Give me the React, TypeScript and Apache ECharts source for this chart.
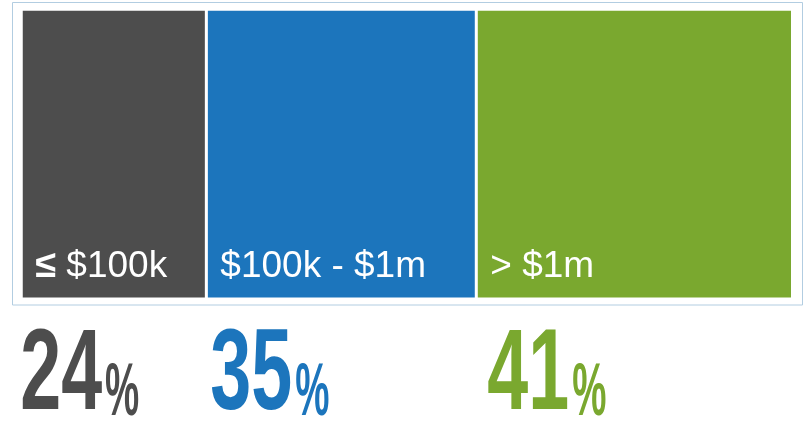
import React, { useEffect, useRef } from 'react';
import * as echarts from 'echarts';

const categories = ['≤ $100k', '$100k - $1m', '> $1m'];
const shares = [24, 35, 41];
const colors = ['#4d4d4d', '#1c75bc', '#7aa82f'];
const PCT_DX = [0, 5, 12];
const NUM_FONT = 'bold 115px "Liberation Sans"';

function measure(text: string, font: string): number {
  const c = document.createElement('canvas').getContext('2d');
  if (!c) return text.length * 64;
  c.font = font;
  return c.measureText(text).width;
}

export default function App() {
  const ref = useRef<HTMLDivElement>(null);
  useEffect(() => {
    const chart = echarts.init(ref.current!, null, { renderer: 'svg' });
    const frame = {
      type: 'rect',
      z: -10,
      silent: true,
      shape: { x: 12.5, y: 2.5, width: 790, height: 302.5 },
      style: { fill: '#ffffff', stroke: '#b2cde1', lineWidth: 1 },
    };
    const series = categories.map((name, i) => ({
      name,
      type: 'bar',
      stack: 'total',
      data: [shares[i]],
      barWidth: '100%',
      silent: true,
      emphasis: { disabled: true },
      itemStyle: { color: colors[i], borderColor: '#ffffff', borderWidth: 1.5 },
      label: {
        show: true,
        position: 'insideBottomLeft',
        distance: 0,
        offset: [14, -16],
        formatter: name.replace('≤', '{s|≤}'),
        color: '#ffffff',
        fontSize: 37,
        fontFamily: 'Liberation Sans',
        rich: {
          s: { fontSize: 38, fontWeight: 'bold', color: '#ffffff', fontFamily: 'Liberation Sans' },
        },
      },
    }));
    chart.setOption({
      animation: false,
      grid: { left: 21.25, right: 13.5, top: 9.25, bottom: 122 },
      xAxis: { type: 'value', min: 0, max: 100, show: false },
      yAxis: { type: 'category', data: ['share'], show: false },
      series,
      graphic: [frame],
    });
    let acc = 0;
    const texts: any[] = [];
    shares.forEach((v, i) => {
      const x0 = chart.convertToPixel({ xAxisIndex: 0 }, acc) as number;
      acc += v;
      const x = x0 + PCT_DX[i] - 1;
      const numW = measure(String(v), NUM_FONT) * 0.64;
      texts.push({
        type: 'text',
        x,
        y: 427,
        scaleX: 0.64,
        silent: true,
        style: {
          text: `{n|${v}}`,
          verticalAlign: 'bottom',
          align: 'left',
          fill: colors[i],
          rich: {
            n: { fontSize: 115, lineHeight: 100, fontWeight: 'bold', fontFamily: 'Liberation Sans', fill: colors[i], verticalAlign: 'bottom' },
          },
        },
      });
      texts.push({
        type: 'text',
        x: x + numW + 3,
        y: 426.5,
        scaleX: 0.52,
        silent: true,
        style: {
          text: '{p|%}',
          verticalAlign: 'bottom',
          align: 'left',
          fill: colors[i],
          rich: {
            p: { fontSize: 74, lineHeight: 74, fontWeight: 'bold', fontFamily: 'Liberation Sans', fill: colors[i], verticalAlign: 'bottom' },
          },
        },
      });
    });
    chart.setOption({ graphic: [frame, ...texts] });
    return () => chart.dispose();
  }, []);
  return <div ref={ref} style={{ position: 'fixed', left: 0, top: 0, width: 806, height: 421 }} />;
}
